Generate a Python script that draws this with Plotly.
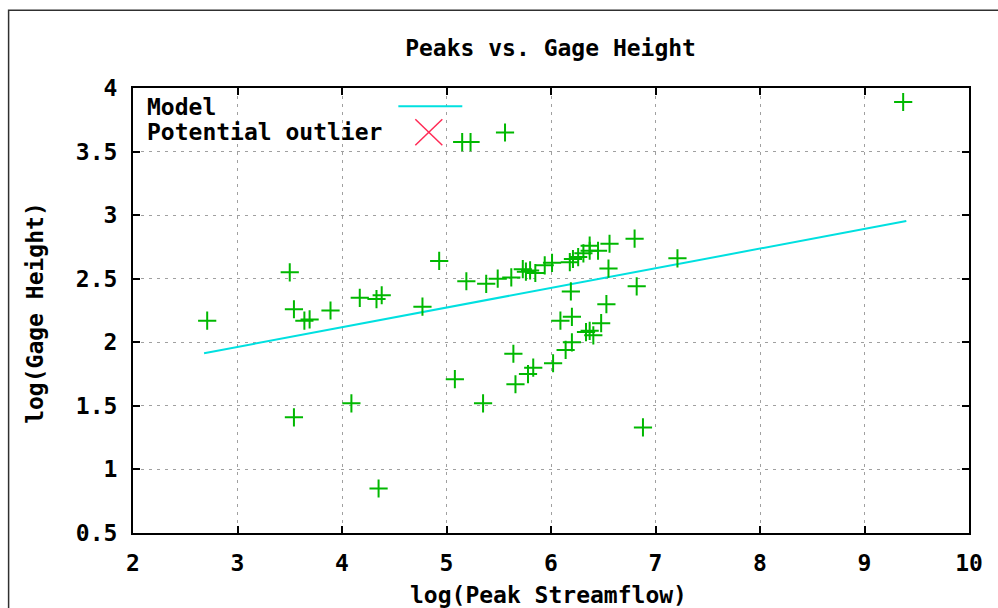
import plotly.graph_objects as go

# log10 peak streamflow vs log10 gage height, one entry per annual peak
log_peak_streamflow = [
    2.71, 3.50, 3.54, 3.54, 3.64, 3.69, 3.89, 4.09, 4.17, 4.33,
    4.35, 4.38, 4.77, 4.93, 5.08, 5.15, 5.23, 5.19, 5.35, 5.38,
    5.49, 5.56, 5.62, 5.64, 5.66, 5.73, 5.76, 5.78, 5.80, 5.83,
    5.85, 5.94, 6.01, 6.02, 6.09, 6.14, 6.18, 6.19, 6.20, 6.20,
    6.21, 6.26, 6.31, 6.335, 6.37, 6.37, 6.37, 6.405, 6.45, 6.48,
    6.53, 6.55, 6.56, 6.80, 6.82, 6.88, 7.21, 9.37,
]
log_gage_height = [
    2.17, 2.55, 2.26, 1.41, 2.17, 2.18, 2.25, 1.52, 2.35, 2.34,
    0.85, 2.37, 2.28, 2.64, 1.71, 3.575, 3.575, 2.48, 1.52, 2.46,
    2.50, 3.65, 2.51, 1.91, 1.67, 2.575, 2.555, 1.75, 2.565, 1.80,
    2.545, 2.605, 2.625, 1.835, 2.17, 1.94, 2.63, 2.40, 2.20, 2.00,
    2.655, 2.67, 2.70, 2.08, 2.09, 2.76, 2.72, 2.055, 2.72, 2.15,
    2.30, 2.58, 2.775, 2.815, 2.44, 1.33, 2.66, 3.89,
]

# fitted linear model: log(gage) = intercept + slope * log(peak)
model_intercept = 1.50
model_slope = 0.1546
model_x = [min(log_peak_streamflow) - 0.03, max(log_peak_streamflow) + 0.03]
model_y = [model_intercept + model_slope * v for v in model_x]

x_ticks = [2, 3, 4, 5, 6, 7, 8, 9, 10]
y_ticks = [0.5, 1, 1.5, 2, 2.5, 3, 3.5, 4]
y_tick_text = ["0.5", "1", "1.5", "2", "2.5", "3", "3.5", "4"]

FONT = "DejaVu Sans Mono"
FS = 23
GREEN = "#00b800"
CYAN = "#00e0e0"
RED = "#ff2a55"

fig = go.Figure()

fig.add_trace(go.Scatter(
    x=model_x, y=model_y, mode="lines",
    line=dict(color=CYAN, width=2),
    name="Model", showlegend=False,
))
fig.add_trace(go.Scatter(
    x=log_peak_streamflow, y=log_gage_height, mode="markers",
    marker=dict(symbol="cross-thin", size=13, line=dict(color=GREEN, width=2)),
    name="Peaks", showlegend=False,
))

axis_common = dict(
    showline=True, linecolor="black", linewidth=2, mirror="ticks",
    ticks="inside", ticklen=7, tickwidth=1.5, tickcolor="black",
    showgrid=True, gridcolor="#a0a0a0", gridwidth=1, griddash="3px,5px",
    zeroline=False,
    tickfont=dict(family=FONT, size=FS, color="black", weight="bold"),
)

fig.update_xaxes(range=[2, 10], tickvals=x_ticks, ticklabelstandoff=8, **axis_common)
fig.update_yaxes(range=[0.5, 4], tickvals=y_ticks, ticktext=y_tick_text,
                 ticklabelstandoff=9, **axis_common)

bold = dict(family=FONT, size=FS, color="black", weight="bold")

annotations = [
    dict(text="log(Peak Streamflow)", x=0.4967, y=-0.14, xref="paper", yref="paper",
         showarrow=False, font=bold, xanchor="center", yanchor="middle"),
    dict(text="log(Gage Height)", x=-0.1166, y=0.4937, xref="paper", yref="paper",
         showarrow=False, font=bold, textangle=-90, xanchor="center", yanchor="middle"),
    dict(text="Model", x=0.0149, y=0.9578, xref="paper", yref="paper",
         showarrow=False, font=bold, xanchor="left", yanchor="middle"),
    dict(text="Potential outlier", x=0.0149, y=0.9011, xref="paper", yref="paper",
         showarrow=False, font=bold, xanchor="left", yanchor="middle"),
]

shapes = [
    # outer frame of the graphic
    dict(type="rect", xref="paper", yref="paper", x0=-0.1488, x1=1.06, y0=-0.25, y1=1.1746,
         line=dict(color="#303030", width=1.5), layer="below"),
    # legend keys
    dict(type="line", xref="paper", yref="paper", x0=0.3174, x1=0.3939, y0=0.9589, y1=0.9589,
         line=dict(color=CYAN, width=2)),
    dict(type="line", xref="paper", yref="paper", x0=0.3377, x1=0.3700, y0=0.9297, y1=0.8712,
         line=dict(color=RED, width=1.5)),
    dict(type="line", xref="paper", yref="paper", x0=0.3377, x1=0.3700, y0=0.8712, y1=0.9297,
         line=dict(color=RED, width=1.5)),
]

fig.update_layout(
    width=998, height=608,
    margin=dict(l=132.5, r=29, t=87.7, b=75.3),
    paper_bgcolor="white", plot_bgcolor="white",
    title=dict(text="Peaks vs. Gage Height", x=0.4995, xref="paper",
               y=1 - 48 / 608, yref="container", xanchor="center", yanchor="middle",
               font=bold),
    annotations=annotations,
    shapes=shapes,
    showlegend=False,
)

fig.write_html("out.html")
